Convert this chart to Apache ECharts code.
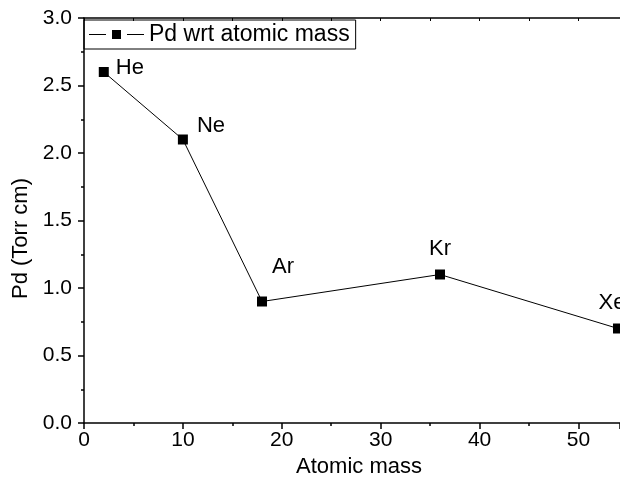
<!DOCTYPE html>
<html>
<head>
<meta charset="utf-8">
<script src="https://cdn.jsdelivr.net/npm/echarts@6/dist/echarts.min.js"></script>
<style>html,body{margin:0;padding:0;background:#fff}#c{width:620px;height:479px}</style>
</head>
<body>
<div id="c"></div>
<script>
var elements = ['He', 'Ne', 'Ar', 'Kr', 'Xe'];
var atomicMass = [2, 10, 18, 36, 54];
var pdValues = [2.6, 2.1, 0.9, 1.1, 0.7];
var seriesName = 'Pd wrt atomic mass';
var xTitle = 'Atomic mass';
var yTitle = 'Pd (Torr cm)';

var labelOffsets = {
  He: {position: 'right', offset: [2, -4]},
  Ne: {position: 'right', offset: [4, -14]},
  Ar: {position: 'top', offset: [21, -14]},
  Kr: {position: 'top', offset: [0, -5]},
  Xe: {position: 'top', offset: [-6, -5]}
};

var data = atomicMass.map(function (m, i) {
  var lo = labelOffsets[elements[i]];
  return {
    value: [m, pdValues[i]],
    label: {show: true, formatter: elements[i], position: lo.position, offset: lo.offset}
  };
});

var FONT = 'Liberation Sans, Arial, sans-serif';
var chart = echarts.init(document.getElementById('c'), null, {renderer: 'canvas'});
chart.setOption({
  animation: false,
  backgroundColor: '#fff',
  grid: {left: 84, top: 18, right: 0, bottom: 56, containLabel: false, outerBoundsMode: 'none'},
  legend: {
    left: 84, top: 20,
    data: [{name: seriesName, icon: 'path://M0,4H17V5H0Z M23,0H32V9H23Z M38,4H55V5H38Z'}],
    itemWidth: 55, itemHeight: 9, itemGap: 4,
    padding: [3, 6, 3, 5],
    borderColor: '#000', borderWidth: 1,
    textStyle: {fontFamily: FONT, fontSize: 23, color: '#000'}
  },
  xAxis: [{
    type: 'value', min: 0, max: 54.2, interval: 10,
    position: 'bottom',
    name: xTitle, nameLocation: 'middle', nameGap: 33,
    nameTextStyle: {fontFamily: FONT, fontSize: 22, color: '#000', padding: [0, 0, 0, 14]},
    axisLine: {show: true, lineStyle: {color: '#000', width: 1.5}},
    axisTick: {show: true, inside: false, length: 6, lineStyle: {color: '#000', width: 1.5}},
    minorTick: {show: true, splitNumber: 2, length: 3, lineStyle: {color: '#000', width: 1.5}},
    axisLabel: {fontFamily: FONT, fontSize: 21, color: '#000', margin: 7,
      formatter: function (v) { return (Math.abs(v % 10) < 1e-6) ? String(v) : ''; }},
    splitLine: {show: false}
  }, {
    type: 'value', min: 0, max: 54.2, interval: 5,
    position: 'top',
    axisLine: {show: true, onZero: false, lineStyle: {color: '#000', width: 1.5}},
    axisTick: {show: true, inside: true, length: 3, lineStyle: {color: '#000', width: 1}},
    axisLabel: {show: false},
    splitLine: {show: false}
  }],
  yAxis: {
    type: 'value', min: 0, max: 3, interval: 0.5,
    name: yTitle, nameLocation: 'middle', nameGap: 50,
    nameTextStyle: {fontFamily: FONT, fontSize: 22, color: '#000', padding: [0, 36, 0, 0]},
    axisLine: {show: true, lineStyle: {color: '#000', width: 1.5}},
    axisTick: {show: true, inside: false, length: 6, lineStyle: {color: '#000', width: 1.5}},
    minorTick: {show: true, splitNumber: 2, length: 3, lineStyle: {color: '#000', width: 1.5}},
    axisLabel: {fontFamily: FONT, fontSize: 21, color: '#000', margin: 12,
      formatter: function (v) { return v.toFixed(1); }},
    splitLine: {show: false}
  },
  series: [{
    name: seriesName,
    type: 'line',
    data: data,
    symbol: 'rect', symbolSize: 10,
    itemStyle: {color: '#000'},
    lineStyle: {color: '#000', width: 1},
    label: {fontFamily: FONT, fontSize: 22, color: '#000'},
    clip: false
  }]
});
</script>
</body>
</html>
